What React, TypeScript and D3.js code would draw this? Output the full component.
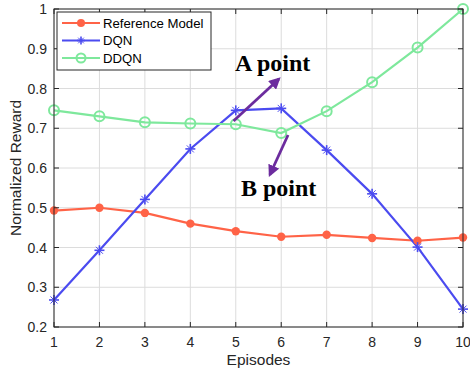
import React from 'react'
import * as d3 from 'd3'

const episodes = [1, 2, 3, 4, 5, 6, 7, 8, 9, 10]
const refModel = [0.493, 0.5, 0.487, 0.46, 0.441, 0.427, 0.432, 0.424, 0.417, 0.425]
const dqn = [0.268, 0.393, 0.521, 0.648, 0.745, 0.75, 0.645, 0.535, 0.401, 0.245]
const ddqn = [0.745, 0.73, 0.715, 0.712, 0.71, 0.688, 0.743, 0.816, 0.903, 1.0]
const yTicks = [0.2, 0.3, 0.4, 0.5, 0.6, 0.7, 0.8, 0.9, 1]
const seriesNames = ['Reference Model', 'DQN', 'DDQN']
// annotation arrows in data units: [x0, y0, x1, y1]
const arrowA = [4.95, 0.718, 5.95, 0.824]
const arrowB = [6.15, 0.683, 5.75, 0.583]

const W = 470
const H = 373
const margin = { top: 9, right: 7, bottom: 46, left: 54 }
const font = 'Liberation Sans, Arial, sans-serif'

const red = '#ff6347'
const blue = '#4b4bf0'
const green = '#7ee89c'
const purple = '#6c2c9e'

const App = () => {
  const x = d3
    .scaleLinear()
    .domain([1, 10])
    .range([margin.left, W - margin.right])
  const y = d3
    .scaleLinear()
    .domain([0.2, 1])
    .range([H - margin.bottom, margin.top])

  const line = d3
    .line<number>()
    .x((_, i) => x(episodes[i]))
    .y(d => y(d))

  const x0 = margin.left
  const x1 = W - margin.right
  const y0 = H - margin.bottom
  const y1 = margin.top

  const star = (cx, cy, s, color, key) => (
    <g key={key} stroke={color} strokeWidth={1.6}>
      <line x1={cx - s} y1={cy} x2={cx + s} y2={cy} />
      <line x1={cx} y1={cy - s} x2={cx} y2={cy + s} />
      <line x1={cx - s * 0.7} y1={cy - s * 0.7} x2={cx + s * 0.7} y2={cy + s * 0.7} strokeWidth={1} />
      <line x1={cx - s * 0.7} y1={cy + s * 0.7} x2={cx + s * 0.7} y2={cy - s * 0.7} strokeWidth={1} />
    </g>
  )

  const arrow = (a, key) => (
    <line
      key={key}
      x1={x(a[0])}
      y1={y(a[1])}
      x2={x(a[2])}
      y2={y(a[3])}
      stroke={purple}
      strokeWidth={2.8}
      markerEnd="url(#arrowhead)"
    />
  )

  const legendItems = [
    { name: seriesNames[0], color: red, type: 'dot' },
    { name: seriesNames[1], color: blue, type: 'star' },
    { name: seriesNames[2], color: green, type: 'ring' },
  ]

  return (
    <svg
      width={W}
      height={H}
      style={{ position: 'absolute', left: 0, top: 0, background: 'white' }}
    >
      <defs>
        <marker
          id="arrowhead"
          viewBox="0 0 10 10"
          refX="8"
          refY="5"
          markerWidth="4.2"
          markerHeight="4.2"
          orient="auto"
        >
          <path d="M0,0 L10,5 L0,10 z" fill={purple} />
        </marker>
      </defs>

      {/* grid */}
      <g stroke="#dcdcdc" strokeWidth={1}>
        {episodes.map(e => (
          <line key={'gx' + e} x1={x(e)} x2={x(e)} y1={y0} y2={y1} />
        ))}
        {yTicks.map(t => (
          <line key={'gy' + t} x1={x0} x2={x1} y1={y(t)} y2={y(t)} />
        ))}
      </g>

      {/* series lines */}
      <path d={line(refModel)} fill="none" stroke={red} strokeWidth={2.2} />
      <path d={line(dqn)} fill="none" stroke={blue} strokeWidth={2.2} />
      <path d={line(ddqn)} fill="none" stroke={green} strokeWidth={2.2} />

      {refModel.map((v, i) => (
        <circle key={'r' + i} cx={x(episodes[i])} cy={y(v)} r={4.2} fill={red} />
      ))}
      {dqn.map((v, i) => star(x(episodes[i]), y(v), 5, blue, 'd' + i))}
      {ddqn.map((v, i) => (
        <circle
          key={'g' + i}
          cx={x(episodes[i])}
          cy={y(v)}
          r={5}
          fill="none"
          stroke={green}
          strokeWidth={2}
        />
      ))}

      {/* box and ticks */}
      <rect x={x0} y={y1} width={x1 - x0} height={y0 - y1} fill="none" stroke="#262626" strokeWidth={1} />
      <g stroke="#262626">
        {episodes.map(e => (
          <g key={'tx' + e}>
            <line x1={x(e)} x2={x(e)} y1={y0} y2={y0 - 5} />
            <line x1={x(e)} x2={x(e)} y1={y1} y2={y1 + 5} />
          </g>
        ))}
        {yTicks.map(t => (
          <g key={'ty' + t}>
            <line x1={x0} x2={x0 + 5} y1={y(t)} y2={y(t)} />
            <line x1={x1} x2={x1 - 5} y1={y(t)} y2={y(t)} />
          </g>
        ))}
      </g>

      <g fontFamily={font} fontSize={14} fill="#262626">
        {episodes.map(e => (
          <text key={'lx' + e} x={x(e)} y={y0 + 20} textAnchor="middle">
            {e}
          </text>
        ))}
        {yTicks.map(t => (
          <text key={'ly' + t} x={x0 - 7} y={y(t) + 5} textAnchor="end">
            {t === 1 ? '1' : t.toFixed(1)}
          </text>
        ))}
        <text x={(x0 + x1) / 2} y={365} textAnchor="middle" fontSize={15.5}>
          Episodes
        </text>
        <text
          transform={`translate(21 ${(y0 + y1) / 2}) rotate(-90)`}
          textAnchor="middle"
          fontSize={15.5}
        >
          Normalized Reward
        </text>
      </g>

      {/* annotations */}
      {arrow(arrowA, 'aa')}
      {arrow(arrowB, 'ab')}
      <g fontFamily="Liberation Serif, Times New Roman, serif" fontWeight="bold" fontSize={24} fill="#000">
        <text x={235} y={71}>A point</text>
        <text x={241} y={196}>B point</text>
      </g>

      {/* legend */}
      <g>
        <rect x={57} y={12} width={154} height={58} fill="white" stroke="#262626" strokeWidth={1} />
        {legendItems.map((it, i) => {
          const ly = 23 + i * 17.5
          return (
            <g key={'lg' + i}>
              <line x1={62} x2={100} y1={ly} y2={ly} stroke={it.color} strokeWidth={2.2} />
              {it.type === 'dot' && <circle cx={81} cy={ly} r={4} fill={it.color} />}
              {it.type === 'star' && star(81, ly, 4, it.color, 'ls')}
              {it.type === 'ring' && (
                <circle cx={81} cy={ly} r={4.5} fill="none" stroke={it.color} strokeWidth={2} />
              )}
              <text x={103} y={ly + 4.5} fontFamily={font} fontSize={13.2} fill="#000">
                {it.name}
              </text>
            </g>
          )
        })}
      </g>
    </svg>
  )
}

export default App
